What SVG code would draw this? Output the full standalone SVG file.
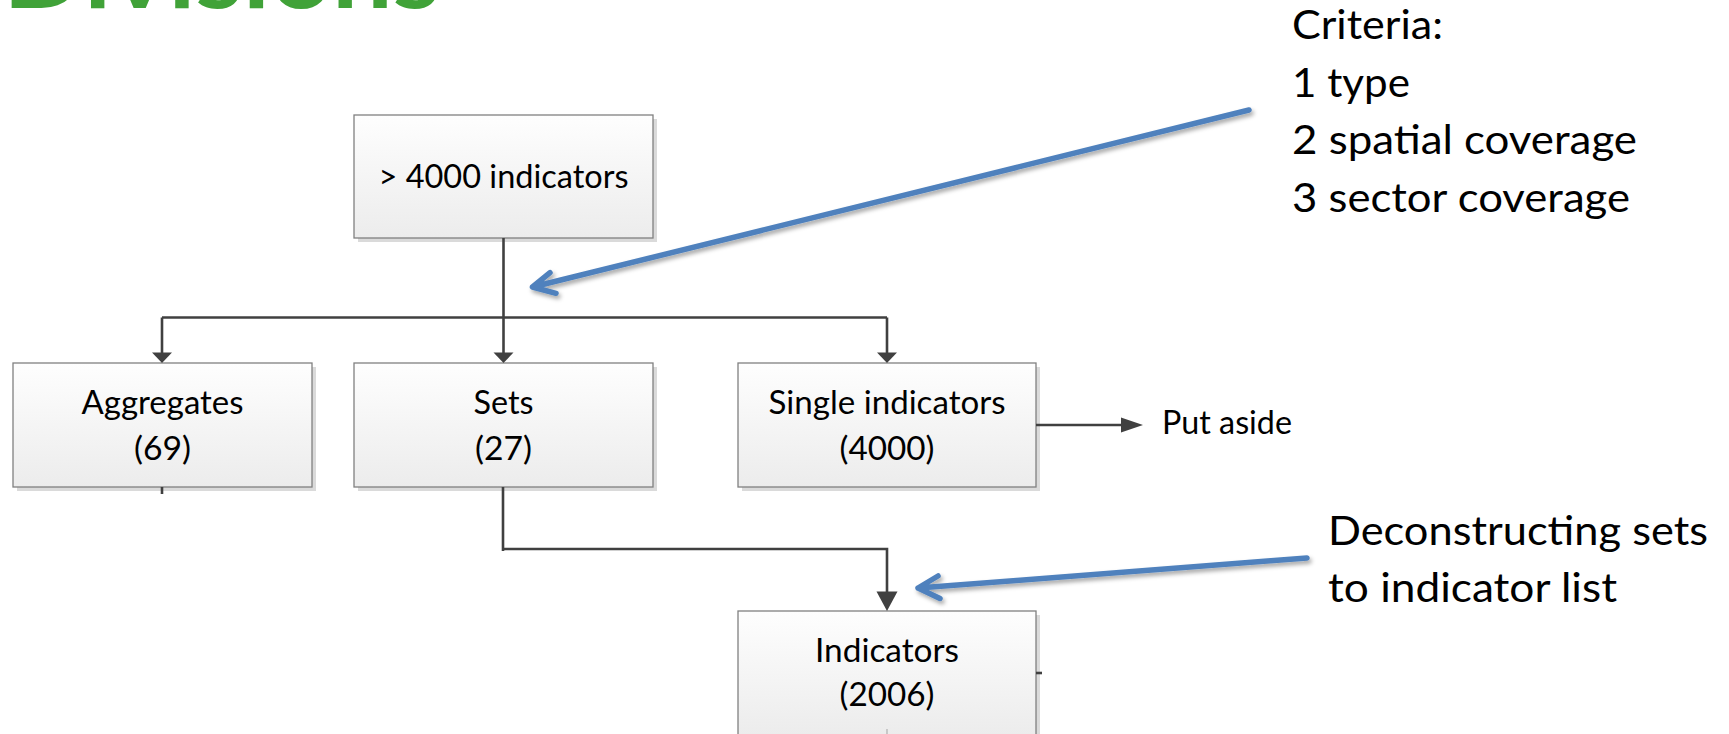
<svg xmlns="http://www.w3.org/2000/svg" width="1729" height="734" viewBox="0 0 1729 734">
<defs>
<linearGradient id="boxGrad" x1="0" y1="0" x2="0" y2="1">
<stop offset="0" stop-color="#fefefe"/>
<stop offset="1" stop-color="#ececec"/>
</linearGradient>
<filter id="sh" x="-10%" y="-60%" width="120%" height="220%">
<feDropShadow dx="2" dy="3" stdDeviation="2" flood-color="#000" flood-opacity="0.35"/>
</filter>
</defs>
<style>
.shadow { fill: #dadada; }
.box { fill: url(#boxGrad); stroke: #808080; stroke-width: 1.3; }
.lbl { font-family: Lato, "Liberation Sans", sans-serif; font-size: 32px; fill: #000; text-anchor: middle; }
.side { font-family: Lato, "Liberation Sans", sans-serif; font-size: 32px; fill: #000; }
.note { font-family: Lato, "Liberation Sans", sans-serif; font-size: 41px; fill: #000; }
.title { font-family: Lato, "Liberation Sans", sans-serif; font-size: 102px; font-weight: 700; fill: #40a238; }
.conn { stroke: #404040; stroke-width: 2.6; fill: none; }
.head { fill: #404040; }
.blue { stroke: #4f81bd; stroke-width: 5.5; fill: none; stroke-linecap: round; stroke-linejoin: round; }
</style>

<text id="title" class="title" x="3" y="7.5" textLength="437" lengthAdjust="spacingAndGlyphs">Divisions</text>

<g id="node-all">
<rect class="shadow" x="358" y="119" width="299" height="123"/>
<rect class="box" x="354" y="115" width="299" height="123"/>
<text class="lbl" x="503.5" y="187.5" textLength="250" lengthAdjust="spacingAndGlyphs">&gt; 4000 indicators</text>
</g>

<g id="node-aggregates">
<rect class="shadow" x="17" y="367" width="299" height="124"/>
<rect class="box" x="13" y="363" width="299" height="124"/>
<text class="lbl" x="162.5" y="413.5" textLength="162" lengthAdjust="spacingAndGlyphs">Aggregates</text>
<text class="lbl" x="162.5" y="459.5" textLength="57" lengthAdjust="spacingAndGlyphs">(69)</text>
</g>

<g id="node-sets">
<rect class="shadow" x="358" y="367" width="299" height="124"/>
<rect class="box" x="354" y="363" width="299" height="124"/>
<text class="lbl" x="503.5" y="413.5" textLength="60" lengthAdjust="spacingAndGlyphs">Sets</text>
<text class="lbl" x="503.5" y="459.5" textLength="57" lengthAdjust="spacingAndGlyphs">(27)</text>
</g>

<g id="node-single">
<rect class="shadow" x="742" y="367" width="298" height="124"/>
<rect class="box" x="738" y="363" width="298" height="124"/>
<text class="lbl" x="887" y="413.5" textLength="237" lengthAdjust="spacingAndGlyphs">Single indicators</text>
<text class="lbl" x="887" y="459.5" textLength="95" lengthAdjust="spacingAndGlyphs">(4000)</text>
</g>

<g id="node-indicators">
<rect class="shadow" x="742" y="615" width="298" height="124"/>
<rect class="box" x="738" y="611" width="298" height="124"/>
<text class="lbl" x="887" y="662" textLength="144" lengthAdjust="spacingAndGlyphs">Indicators</text>
<text class="lbl" x="887" y="706" textLength="95" lengthAdjust="spacingAndGlyphs">(2006)</text>
</g>

<g id="node-putaside">
<text class="side" x="1162" y="434" textLength="130" lengthAdjust="spacingAndGlyphs">Put aside</text>
</g>

<g id="connectors">
<path class="conn" d="M503.5 238 V353"/>
<path class="conn" d="M162 317.5 H887"/>
<path class="conn" d="M162 317.5 V353"/>
<path class="conn" d="M887 317.5 V353"/>
<polygon class="head" points="152,352.5 172,352.5 162,363"/>
<polygon class="head" points="493.5,352.5 513.5,352.5 503.5,363"/>
<polygon class="head" points="877,352.5 897,352.5 887,363"/>
<path class="conn" d="M162 487 V494"/>
<path class="conn" d="M503 487 V551 M503 549 H887 V592"/>
<polygon class="head" points="876.5,591.5 897.5,591.5 887,611"/>
<path class="conn" d="M1036 673 H1042"/>
<path class="conn" d="M1036 425 H1122"/>
<polygon class="head" points="1121,417.5 1121,432.5 1143,425"/>
<path d="M887 729 V734" stroke="#b0b0b0" stroke-width="1.2"/>
</g>

<g id="annotation-criteria">
<text class="note" x="1292" y="39.3" textLength="151" lengthAdjust="spacingAndGlyphs">Criteria:</text>
<text class="note" x="1292" y="97.3" textLength="118" lengthAdjust="spacingAndGlyphs">1 type</text>
<text class="note" x="1292" y="154" textLength="345" lengthAdjust="spacingAndGlyphs">2 spatial coverage</text>
<text class="note" x="1292" y="211.7" textLength="338" lengthAdjust="spacingAndGlyphs">3 sector coverage</text>
</g>

<g id="annotation-deconstruct">
<text class="note" x="1328" y="545" textLength="380" lengthAdjust="spacingAndGlyphs">Deconstructing sets</text>
<text class="note" x="1328" y="601.7" textLength="289" lengthAdjust="spacingAndGlyphs">to indicator list</text>
</g>

<g id="annotation-arrows" filter="url(#sh)">
<path class="blue" d="M1249 110 L532.5 287 M550 272.7 L532.5 287 L556 293.3"/>
<path class="blue" d="M1307 558 L918 588 M938 576 L918 588 L940 598.5"/>
</g>
</svg>
